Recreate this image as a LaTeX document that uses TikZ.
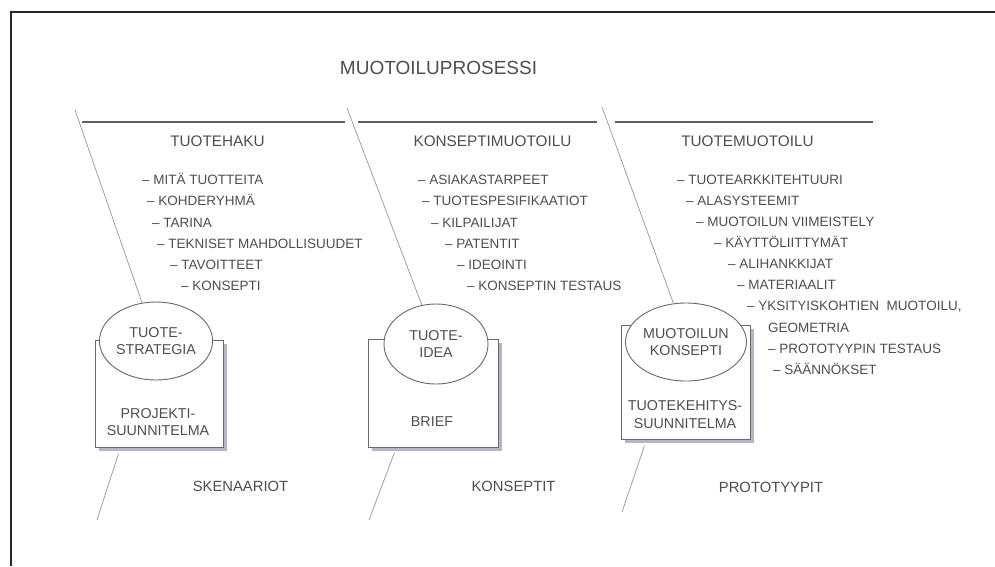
\documentclass[tikz,border=0pt]{standalone}
\usepackage{fontspec}
\setmainfont{Liberation Sans}
\usetikzlibrary{shapes.geometric,shadows}
\definecolor{txt}{RGB}{78,78,78}
\definecolor{boxline}{RGB}{105,105,105}
\definecolor{rulecol}{RGB}{95,95,95}
\definecolor{slantcol}{RGB}{150,150,150}
\definecolor{shade}{RGB}{178,182,198}
\begin{document}
\begin{tikzpicture}[x=1pt,y=-1pt,
  every node/.style={inner sep=0pt, text=txt},
  item/.style={anchor=base west, font=\fontsize{13.5}{16}\selectfont},
  head/.style={anchor=base, font=\fontsize{15.3}{18}\selectfont},
  lbl/.style={anchor=base, font=\fontsize{14.8}{18}\selectfont},
  boxtext/.style={align=center, font=\fontsize{14.3}{17.8}\selectfont},
  docbox/.style={draw=boxline, line width=0.9pt, fill=white, rectangle,
    drop shadow={shadow xshift=4pt, shadow yshift=-4pt, fill=shade, opacity=1}},
  bubble/.style={draw=boxline, line width=0.9pt, fill=white, ellipse, boxtext},
  rulestyle/.style={draw=rulecol, line width=1.3pt},
  slant/.style={draw=slantcol, line width=0.7pt}]
\useasboundingbox (0,0) rectangle (995,566);
\fill[white] (0,0) rectangle (995,566);
% frame
\coordinate (fbl) at (11,566);
\coordinate (ftl) at (11,12);
\coordinate (ftr) at (995,12);
\draw[line width=2pt, draw=black!85] (fbl) -- (ftl) -- (ftr);

% title
\node[anchor=base, font=\fontsize{19}{22}\selectfont] (title) at (438.5,74.3) {MUOTOILUPROSESSI};

% header rules
\coordinate (r1a) at (82,122);  \coordinate (r1b) at (345,122);
\coordinate (r2a) at (358,122); \coordinate (r2b) at (597,122);
\coordinate (r3a) at (615,122); \coordinate (r3b) at (873,122);
\draw[rulestyle] (r1a) -- (r1b);
\draw[rulestyle] (r2a) -- (r2b);
\draw[rulestyle] (r3a) -- (r3b);

% headings
\node[head] (h1) at (217.5,146.5) {TUOTEHAKU};
\node[head] (h2) at (492.5,146.5) {KONSEPTIMUOTOILU};
\node[head] (h3) at (747.5,146.5) {TUOTEMUOTOILU};

% lists column 1
\node[item] (a1) at (142,184) {– MITÄ TUOTTEITA};
\node[item] (a2) at (147,205) {– KOHDERYHMÄ};
\node[item] (a3) at (152,227) {– TARINA};
\node[item] (a4) at (157,248) {– TEKNISET MAHDOLLISUUDET};
\node[item] (a5) at (170,269) {– TAVOITTEET};
\node[item] (a6) at (181,290) {– KONSEPTI};

% lists column 2
\node[item] (b1t) at (418,184) {– ASIAKASTARPEET};
\node[item] (b2t) at (422,205) {– TUOTESPESIFIKAATIOT};
\node[item] (b3t) at (431,227) {– KILPAILIJAT};
\node[item] (b4t) at (445,248) {– PATENTIT};
\node[item] (b5t) at (457,269) {– IDEOINTI};
\node[item] (b6t) at (467,290) {– KONSEPTIN TESTAUS};

% lists column 3
\node[item] (c1) at (677,184) {– TUOTEARKKITEHTUURI};
\node[item] (c2) at (686,205) {– ALASYSTEEMIT};
\node[item] (c3) at (696,226) {– MUOTOILUN VIIMEISTELY};
\node[item] (c4) at (714,247) {– KÄYTTÖLIITTYMÄT};
\node[item] (c5) at (728,268) {– ALIHANKKIJAT};
\node[item] (c6) at (737,289) {– MATERIAALIT};
\node[item] (c7) at (747,310) {– YKSITYISKOHTIEN\ \ MUOTOILU,};
\node[item] (c8) at (768,332) {GEOMETRIA};
\node[item] (c9) at (768,353) {– PROTOTYYPIN TESTAUS};
\node[item] (c10) at (773,374) {– SÄÄNNÖKSET};

% boxes
\node[docbox, minimum width=128pt, minimum height=107pt] (box1) at (159,393.5) {};
\node[docbox, minimum width=130pt, minimum height=108pt] (box2) at (433,393) {};
\node[docbox, minimum width=129pt, minimum height=114pt] (box3) at (685.5,382) {};

% ellipses
\node[bubble, minimum width=102pt, minimum height=78pt] (e1) at (156,341) {TUOTE-\\STRATEGIA};
\node[bubble, minimum width=104pt, minimum height=80pt] (e2) at (436,344) {TUOTE-\\IDEA};
\node[bubble, minimum width=113pt, minimum height=78pt] (e3) at (686,342) {MUOTOILUN\\KONSEPTI};

% box texts
\node[boxtext] (p1) at (158,422) {PROJEKTI-\\SUUNNITELMA};
\node[boxtext] (p2) at (432,422) {BRIEF};
\node[boxtext] (p3) at (685,414.5) {TUOTEKEHITYS-\\SUUNNITELMA};

% bottom labels
\node[lbl] (s1) at (240.5,491.3) {SKENAARIOT};
\node[lbl] (s2) at (513.5,491.3) {KONSEPTIT};
\node[lbl] (s3) at (771,492) {PROTOTYYPIT};

% slanted lines
\coordinate (t1) at (75,110);
\coordinate (t2) at (347,108);
\coordinate (t3) at (602,107);
\coordinate (u1) at (97,520);
\coordinate (u2) at (369,520);
\coordinate (u3) at (622,512);
\draw[slant] (t1) -- (e1.110);
\draw[slant] (t2) -- (e2.110);
\draw[slant] (t3) -- (e3.108);
\draw[slant] ([xshift=24pt,yshift=-6pt]box1.south west) -- (u1);
\draw[slant] ([xshift=27pt,yshift=-5pt]box2.south west) -- (u2);
\draw[slant] ([xshift=24pt,yshift=-6pt]box3.south west) -- (u3);
\end{tikzpicture}
\end{document}
